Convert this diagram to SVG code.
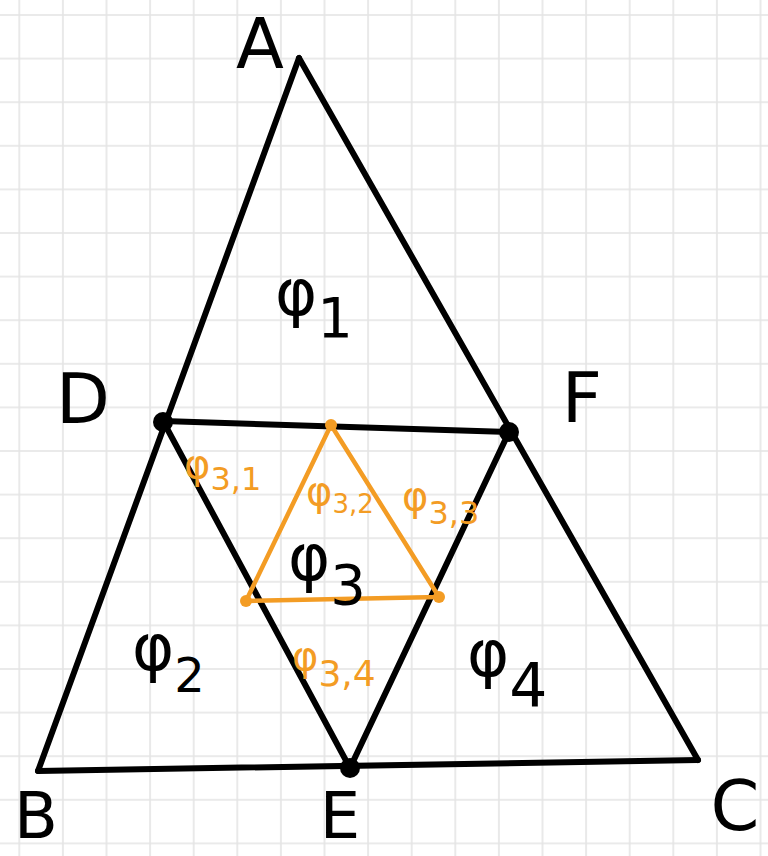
<svg xmlns="http://www.w3.org/2000/svg" width="768" height="856" viewBox="0 0 768 856">
<style>
.edge{stroke:#000;stroke-width:6;fill:none;stroke-linecap:round;stroke-linejoin:round}
.oedge{stroke:#f39c24;stroke-width:4.5;fill:none;stroke-linecap:round;stroke-linejoin:round}
.lbl{font-family:"DejaVu Sans","Liberation Sans",sans-serif;fill:#000}
.big{font-size:70px}
.bot{font-size:64px}
.phi{font-size:64px}
.olbl{font-family:"DejaVu Sans","Liberation Sans",sans-serif;fill:#f39c24;font-size:40px}
.dot{fill:#000}
.odot{fill:#f39c24}
</style>
<defs>
<pattern id="grid" patternUnits="userSpaceOnUse" x="-2.5" y="-6.8" width="43.6" height="43.6">
<path d="M21.8 0V43.6M0 21.8H43.6" stroke="#e4e4e4" stroke-width="1.6" fill="none"/>
</pattern>
</defs>
<rect width="768" height="856" fill="#fff"/>
<rect width="768" height="856" fill="url(#grid)"/>

<g id="connectors">
<path class="edge" d="M299 58L38 771"/>
<path class="edge" d="M299 58L698 760"/>
<path class="edge" d="M38 771L698 760"/>
<path class="edge" d="M163 421L509 432"/>
<path class="edge" d="M163 421L350 768"/>
<path class="edge" d="M509 432L350 768"/>
<path class="oedge" d="M331 425L246 601L439 597Z"/>
</g>

<g id="A"><text class="lbl big" x="260" y="68" text-anchor="middle">A</text></g>
<g id="B"><text class="lbl bot" x="36" y="838" text-anchor="middle">B</text></g>
<g id="C"><text class="lbl big" x="735" y="830" text-anchor="middle">C</text></g>
<g id="D"><circle class="dot" cx="163" cy="422" r="10"/><text class="lbl big" x="83" y="423" text-anchor="middle">D</text></g>
<g id="F"><circle class="dot" cx="509" cy="432" r="10"/><text class="lbl big" x="582" y="422" text-anchor="middle">F</text></g>
<g id="E"><circle class="dot" cx="350" cy="768" r="10"/><text class="lbl bot" x="340" y="838" text-anchor="middle">E</text></g>

<g id="phi1"><text class="lbl phi" x="275" y="315">φ<tspan dy="22" font-size="56">1</tspan></text></g>
<g id="phi2"><text class="lbl phi" x="132" y="670">φ<tspan dy="22" font-size="48">2</tspan></text></g>
<g id="phi3"><text class="lbl phi" x="288" y="580">φ<tspan dy="24" font-size="56">3</tspan></text></g>
<g id="phi4"><text class="lbl phi" x="467" y="676">φ<tspan dy="30" font-size="60">4</tspan></text></g>

<g id="orange-triangle">
<circle class="odot" cx="331" cy="425" r="6"/>
<circle class="odot" cx="246" cy="601" r="6"/>
<circle class="odot" cx="439" cy="597" r="6"/>
</g>
<g id="phi31"><text class="olbl" x="184" y="478">φ<tspan dy="12" font-size="32">3,1</tspan></text></g>
<g id="phi32"><text class="olbl" x="306" y="505" font-size="34">φ<tspan dy="8" font-size="26">3,2</tspan></text></g>
<g id="phi33"><text class="olbl" x="402" y="510">φ<tspan dy="14" font-size="32">3,3</tspan></text></g>
<g id="phi34"><text class="olbl" x="292" y="670">φ<tspan dy="16" font-size="36">3,4</tspan></text></g>
</svg>
